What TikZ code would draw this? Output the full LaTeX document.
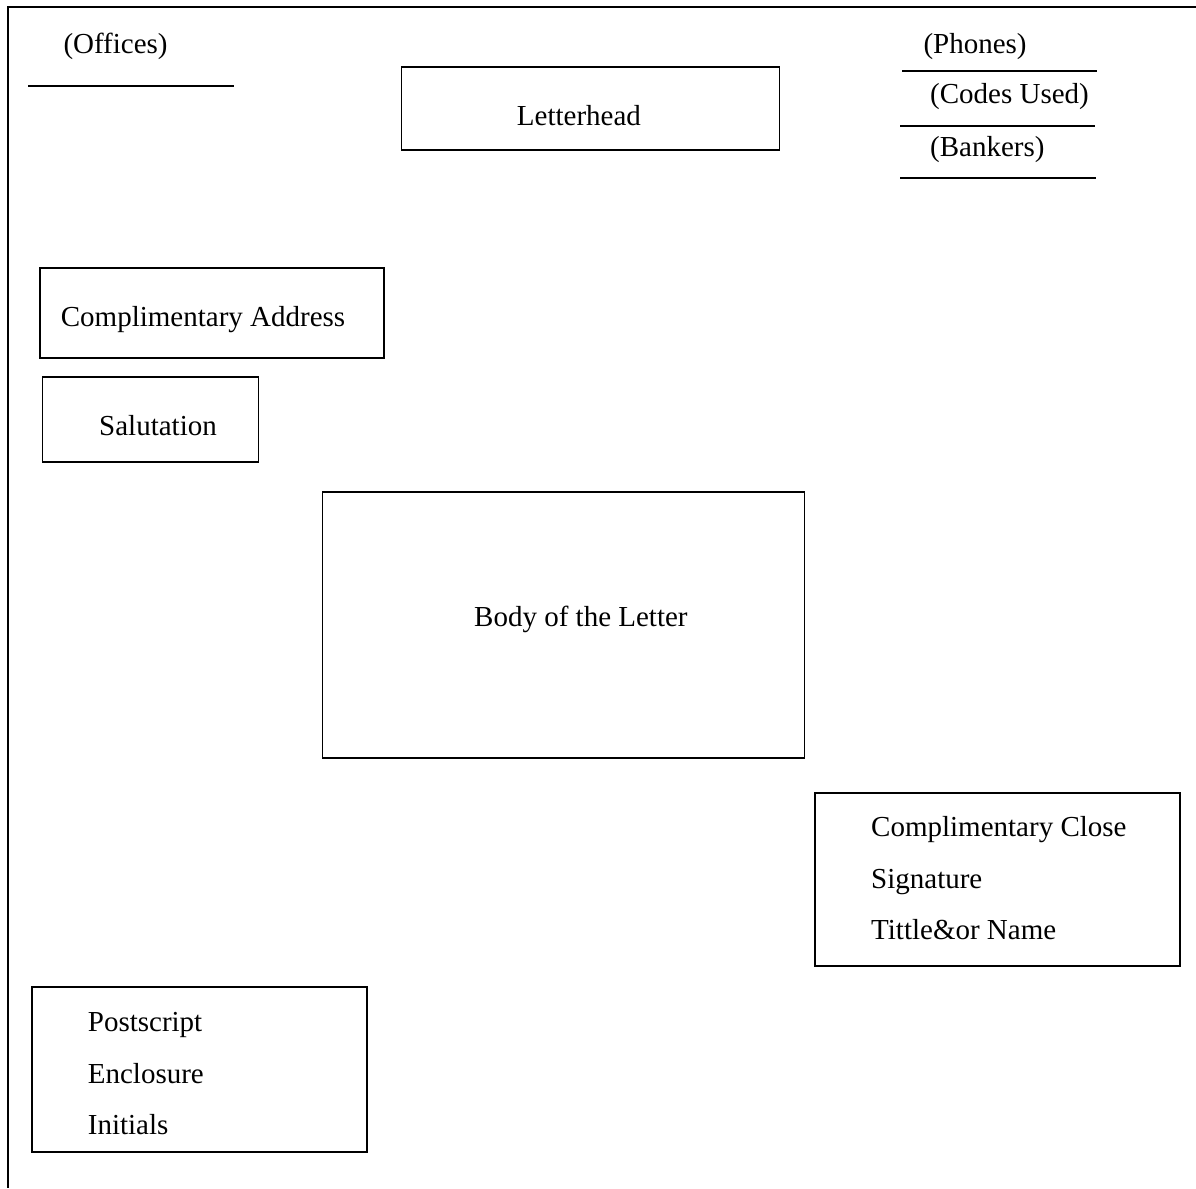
\documentclass[tikz,border=0pt]{standalone}
\usepackage{fontspec}
\setmainfont{Liberation Serif}
\begin{document}
\begin{tikzpicture}[x=1pt,y=-1pt,
  box/.style={draw, line width=1.8pt, inner sep=0pt, anchor=north west},
  lbl/.style={anchor=base west, inner sep=0pt, font=\fontsize{29}{34}\selectfont},
  rule/.style={line width=2pt}]
\useasboundingbox (0,0) rectangle (1196,1188);
% page frame
\coordinate (tl) at (7.5,7);
\coordinate (tr) at (1196,7);
\coordinate (bl) at (7.5,1188);
\draw[line width=2pt] (tr) -- (tl) -- (bl);
% header
\node[lbl] (offices) at (63.3,53.5) {(Offices)};
\coordinate (o1) at (28,86); \coordinate (o2) at (234,86);
\draw[rule] (o1) -- (o2);
\node[box, minimum width=378pt, minimum height=83pt] (lhbox) at (400.5,66) {};
\node[lbl] (lh) at (516.7,126) {Letterhead};
\node[lbl] (phones) at (923.3,53.5) {(Phones)};
\coordinate (p1) at (902,71); \coordinate (p2) at (1097,71);
\draw[rule] (p1) -- (p2);
\node[lbl] (codes) at (930,104) {(Codes Used)};
\coordinate (c1) at (900,126); \coordinate (c2) at (1095,126);
\draw[rule] (c1) -- (c2);
\node[lbl] (bankers) at (930,156) {(Bankers)};
\coordinate (b1) at (900,178); \coordinate (b2) at (1096,178);
\draw[rule] (b1) -- (b2);
% boxes
\node[box, minimum width=344pt, minimum height=90pt] (cabox) at (39.3,266.7) {};
\node[lbl] (ca) at (60.7,326) {Complimentary Address};
\node[box, minimum width=216pt, minimum height=85pt] (salbox) at (41.5,375.8) {};
\node[lbl] (sal) at (99,435) {Salutation};
\node[box, minimum width=482pt, minimum height=266pt] (bodybox) at (321.5,491) {};
\node[lbl] (body) at (474,626.7) {Body of the Letter};
\node[box, minimum width=365pt, minimum height=173pt] (closebox) at (814,792.3) {};
\node[lbl] (cc) at (871,836.7) {Complimentary Close};
\node[lbl] (sig) at (871,888.3) {Signature};
\node[lbl] (tit) at (871,939.3) {Tittle\&or Name};
\node[box, minimum width=335pt, minimum height=165pt] (psbox) at (31,985.8) {};
\node[lbl] (ps) at (87.7,1031.7) {Postscript};
\node[lbl] (enc) at (87.7,1083.3) {Enclosure};
\node[lbl] (ini) at (87.7,1134.3) {Initials};
\end{tikzpicture}
\end{document}
